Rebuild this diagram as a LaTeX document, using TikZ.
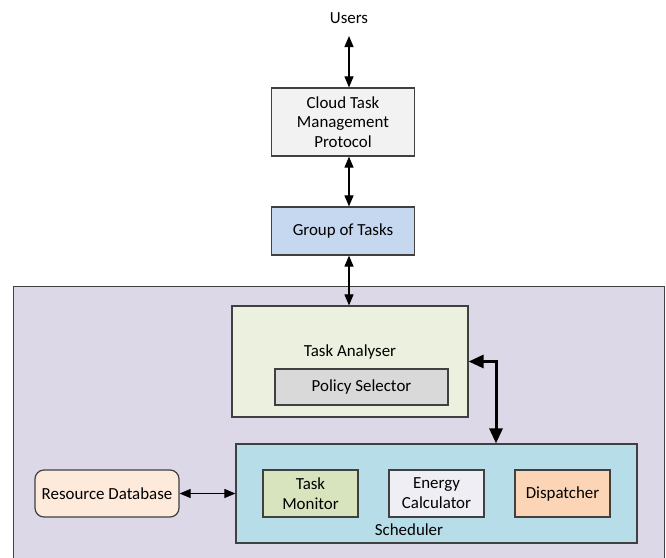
\documentclass[tikz,border=0pt]{standalone}
\usepackage{fontspec}
\setmainfont{Carlito}
\usepackage{xcolor}
\usepackage{tikz}
\usetikzlibrary{arrows.meta}
\definecolor{outbg}{HTML}{DDD8E8}
\definecolor{ctmp}{HTML}{F2F2F2}
\definecolor{got}{HTML}{C6D8F0}
\definecolor{ta}{HTML}{EBF1DE}
\definecolor{pol}{HTML}{D9D9D9}
\definecolor{sch}{HTML}{B7DEE8}
\definecolor{tmon}{HTML}{D7E4BD}
\definecolor{ecal}{HTML}{F0EEF5}
\definecolor{disp}{HTML}{FBD5B5}
\definecolor{rdb}{HTML}{FDEADA}

\begin{document}
\begin{tikzpicture}[x=1pt, y=-1pt,
    bx/.style={draw=black!75, line width=1.2pt, inner sep=2pt, align=center,
               font=\fontsize{16.9}{19.8}\selectfont},
    tx/.style={font=\fontsize{16.9}{19.8}\selectfont},
    ar/.style={{Triangle[length=11pt,width=9pt]}-{Triangle[length=11pt,width=9pt]},
               line width=1.1pt},
    tk/.style={{Triangle[length=15pt,width=13pt]}-{Triangle[length=15pt,width=13pt]},
               line width=3pt}]
  \useasboundingbox (0,0) rectangle (666,557);
  \node[bx, fill=outbg, minimum width=651, minimum height=300, anchor=north west] (sys) at (13,286) {};
  \node[tx] (users) at (349,18) {Users};
  \node[bx, fill=ctmp, minimum width=143, minimum height=68] (ctmp) at (343,122)
    {Cloud Task\\Management\\Protocol};
  \node[bx, fill=got, minimum width=143, minimum height=48] (got) at (343,231) {Group of Tasks};
  \node[bx, fill=ta, minimum width=236, minimum height=111] (ta) at (350,361.5) {};
  \node[tx] (tatxt) at (350,352) {Task Analyser};
  \node[bx, fill=pol, minimum width=173, minimum height=36] (pol) at (361.5,387) {Policy Selector};
  \node[bx, fill=sch, minimum width=401, minimum height=99] (sch) at (436.5,493.5) {};
  \node[tx] (schtxt) at (409,530) {Scheduler};
  \foreach \n/\c/\t/\xx in {tm/tmon/{Task\\Monitor}/310.5,
                            ec/ecal/{Energy\\Calculator}/436.5,
                            dp/disp/Dispatcher/562.5}{
    \node[bx, fill=\c, minimum width=95, minimum height=47] (\n) at (\xx,493.5) {\t};}
  \node[bx, fill=rdb, rounded corners=9pt, minimum width=144, minimum height=47] (rdb)
    at (107,493.5) {Resource Database};
  \draw[ar] ([yshift=-9pt]users.south) -- (users |- ctmp.north);
  \draw[ar] (users |- ctmp.south) -- (users |- got.north);
  \draw[ar] (users |- got.south) -- (users |- ta.north);
  \coordinate (bend) at (496,361.5);
  \draw[tk] (ta.east) -| (sch.north -| bend);
  \draw[ar] (rdb) -- (sch);
\end{tikzpicture}
\end{document}
